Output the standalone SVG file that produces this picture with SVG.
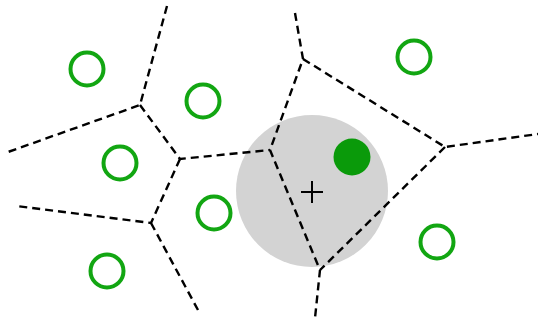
<svg xmlns="http://www.w3.org/2000/svg" width="538" height="323" viewBox="0 0 538 323">
<style>
.e{fill:none;stroke:#000;stroke-width:2.4;stroke-dasharray:8 5}
.s{fill:none;stroke:#12a612;stroke-width:4}
</style>
<rect width="538" height="323" fill="#fff"/>
<circle id="query-region" cx="312" cy="191" r="76" fill="#d3d3d3"/>
<g id="edges">
<path class="e" d="M167 6 L140 105 L8 152"/>
<path class="e" d="M140 105 L180 159 L270 150"/>
<path class="e" d="M180 159 L151 223 L16 206"/>
<path class="e" d="M151 223 L198 310"/>
<path class="e" d="M295 13 L303 59 L270 150 L320 270 L315 318"/>
<path class="e" d="M303 59 L445 147 L538 134"/>
<path class="e" d="M445 147 L320 270"/>
</g>
<g id="sites">
<circle class="s" cx="87" cy="69" r="16.5"/>
<circle class="s" cx="203" cy="101" r="16.5"/>
<circle class="s" cx="120" cy="163" r="16.5"/>
<circle class="s" cx="214" cy="213" r="16.5"/>
<circle class="s" cx="107" cy="271" r="16.5"/>
<circle class="s" cx="414" cy="57" r="16.5"/>
<circle class="s" cx="437" cy="242" r="16.5"/>
</g>
<circle id="nearest" cx="352" cy="157" r="18.5" fill="#0a9a0a"/>
<g id="query" stroke="#000" stroke-width="2">
<line x1="301" y1="192" x2="323" y2="192"/>
<line x1="312" y1="181" x2="312" y2="203"/>
</g>
</svg>
